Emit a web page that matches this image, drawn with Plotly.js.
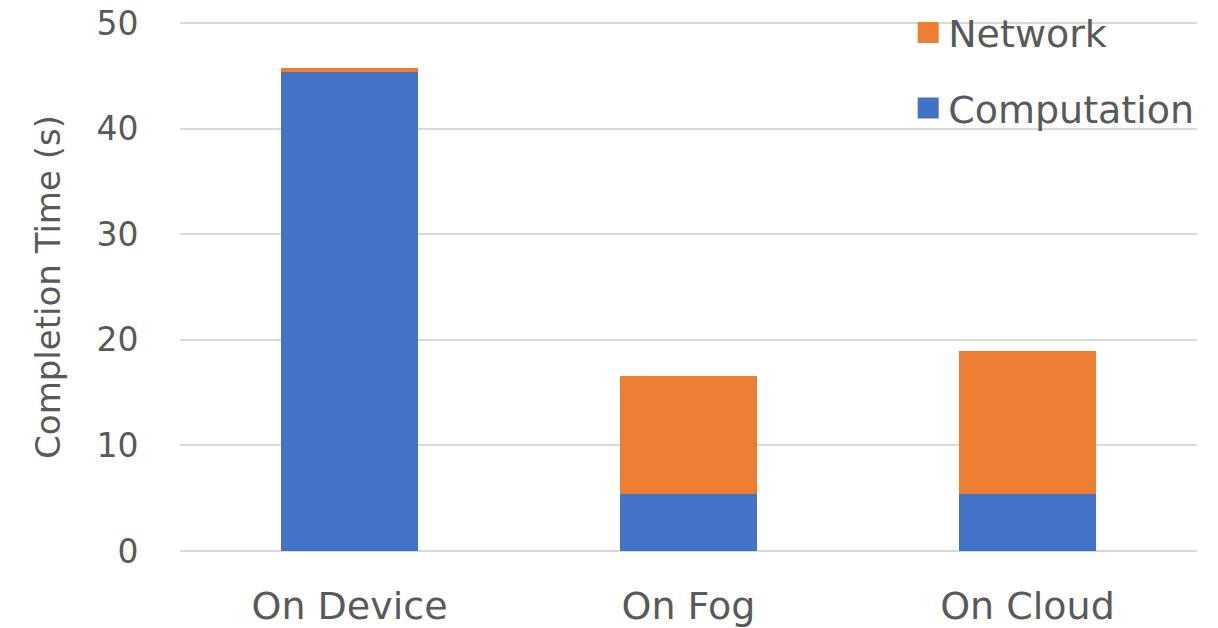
<!DOCTYPE html>
<html>
<head>
<meta charset="utf-8">
<script src="https://cdn.plot.ly/plotly-3.0.1.min.js"></script>
<style>
  html, body { margin: 0; padding: 0; background: #ffffff; }
  #chart { width: 1218px; height: 628px; }
</style>
</head>
<body>
<div id="chart"></div>
<script>
// Where the task runs
const categories = ['On Device', 'On Fog', 'On Cloud'];
// Time spent on each part of the task, in seconds
const computation = [45.4, 5.4, 5.4];
const network = [0.35, 11.2, 13.5];
const yTicks = [0, 10, 20, 30, 40, 50];

const BLUE = '#4472C4';
const ORANGE = '#ED7D31';
const TEXT = '#595959';
const FONT = 'DejaVu Sans, sans-serif';

const traces = [
  {
    type: 'bar', name: 'Computation', x: categories, y: computation,
    marker: { color: BLUE }, width: 0.405, showlegend: false, hoverinfo: 'x+y+name'
  },
  {
    type: 'bar', name: 'Network', x: categories, y: network,
    marker: { color: ORANGE }, width: 0.405, showlegend: false, hoverinfo: 'x+y+name'
  },
  // legend keys (large square swatches)
  {
    type: 'scatter', mode: 'markers', name: 'Network', x: [null], y: [null],
    legendgroup: 'net',
    marker: { symbol: 'square', size: 16, color: ORANGE, line: { color: ORANGE, width: 5 } }
  },
  {
    type: 'scatter', mode: 'markers', name: 'Computation', x: [null], y: [null],
    legendgroup: 'comp',
    marker: { symbol: 'square', size: 16, color: BLUE, line: { color: BLUE, width: 5 } }
  }
];

const layout = {
  width: 1218, height: 628,
  margin: { l: 180, r: 21, t: 22, b: 76, pad: 0, autoexpand: false },
  paper_bgcolor: '#ffffff', plot_bgcolor: '#ffffff',
  barmode: 'stack',
  font: { family: FONT, color: TEXT },
  xaxis: {
    type: 'category', categoryarray: categories,
    showgrid: false, zeroline: false, showline: false,
    ticks: 'outside', ticklen: 20, tickcolor: 'rgba(0,0,0,0)',
    tickfont: { size: 38, color: TEXT, family: FONT }
  },
  yaxis: {
    // a hair of padding so the 0 and 50 gridlines are drawn too
    range: [-0.1, 50.1], tickvals: yTicks, ticktext: yTicks.map(String),
    showgrid: true, gridcolor: '#D9D9D9', gridwidth: 2,
    zeroline: false, showline: false,
    ticks: 'outside', ticklen: 34, tickcolor: 'rgba(0,0,0,0)',
    tickfont: { size: 33, color: TEXT, family: FONT },
    title: { text: 'Completion Time (s)', font: { size: 34, color: TEXT, family: FONT }, standoff: 25 }
  },
  legend: {
    x: 0.716, xanchor: 'left', y: 1.039, yanchor: 'top',
    font: { size: 38, color: TEXT, family: FONT },
    bgcolor: 'rgba(0,0,0,0)', tracegroupgap: 23, traceorder: 'grouped'
  },
  showlegend: true
};

Plotly.newPlot('chart', traces, layout, { displayModeBar: false, staticPlot: true });
</script>
</body>
</html>
